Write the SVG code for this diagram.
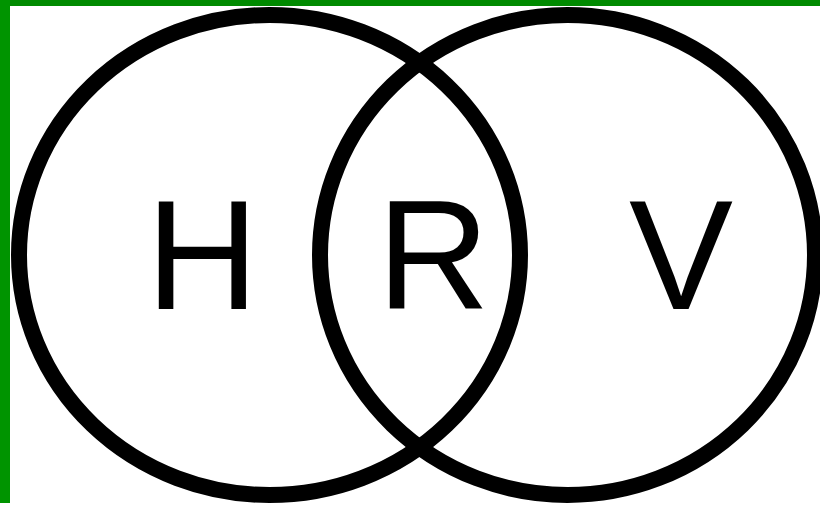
<svg xmlns="http://www.w3.org/2000/svg" width="820" height="505" viewBox="0 0 820 505">
<style>
.ring{fill:none;stroke:#000;stroke-width:16}
.lbl{font-family:"Liberation Sans",Arial,sans-serif;font-size:156px;fill:#000}
</style>
<rect x="0" y="0" width="820" height="505" fill="#fff"/>
<rect x="0" y="0" width="820" height="6" fill="#008a00"/>
<rect x="0" y="0" width="10" height="503" fill="#009400"/>
<g id="left-set">
<ellipse class="ring" cx="269.5" cy="255" rx="250.5" ry="240"/>
<text class="lbl" x="146" y="309">H</text>
</g>
<g id="right-set">
<ellipse class="ring" cx="567.5" cy="255" rx="247.5" ry="240"/>
<text class="lbl" x="629" y="309">V</text>
</g>
<g id="intersection">
<text class="lbl" x="377" y="309">R</text>
</g>
<g id="connectors"></g>
</svg>
